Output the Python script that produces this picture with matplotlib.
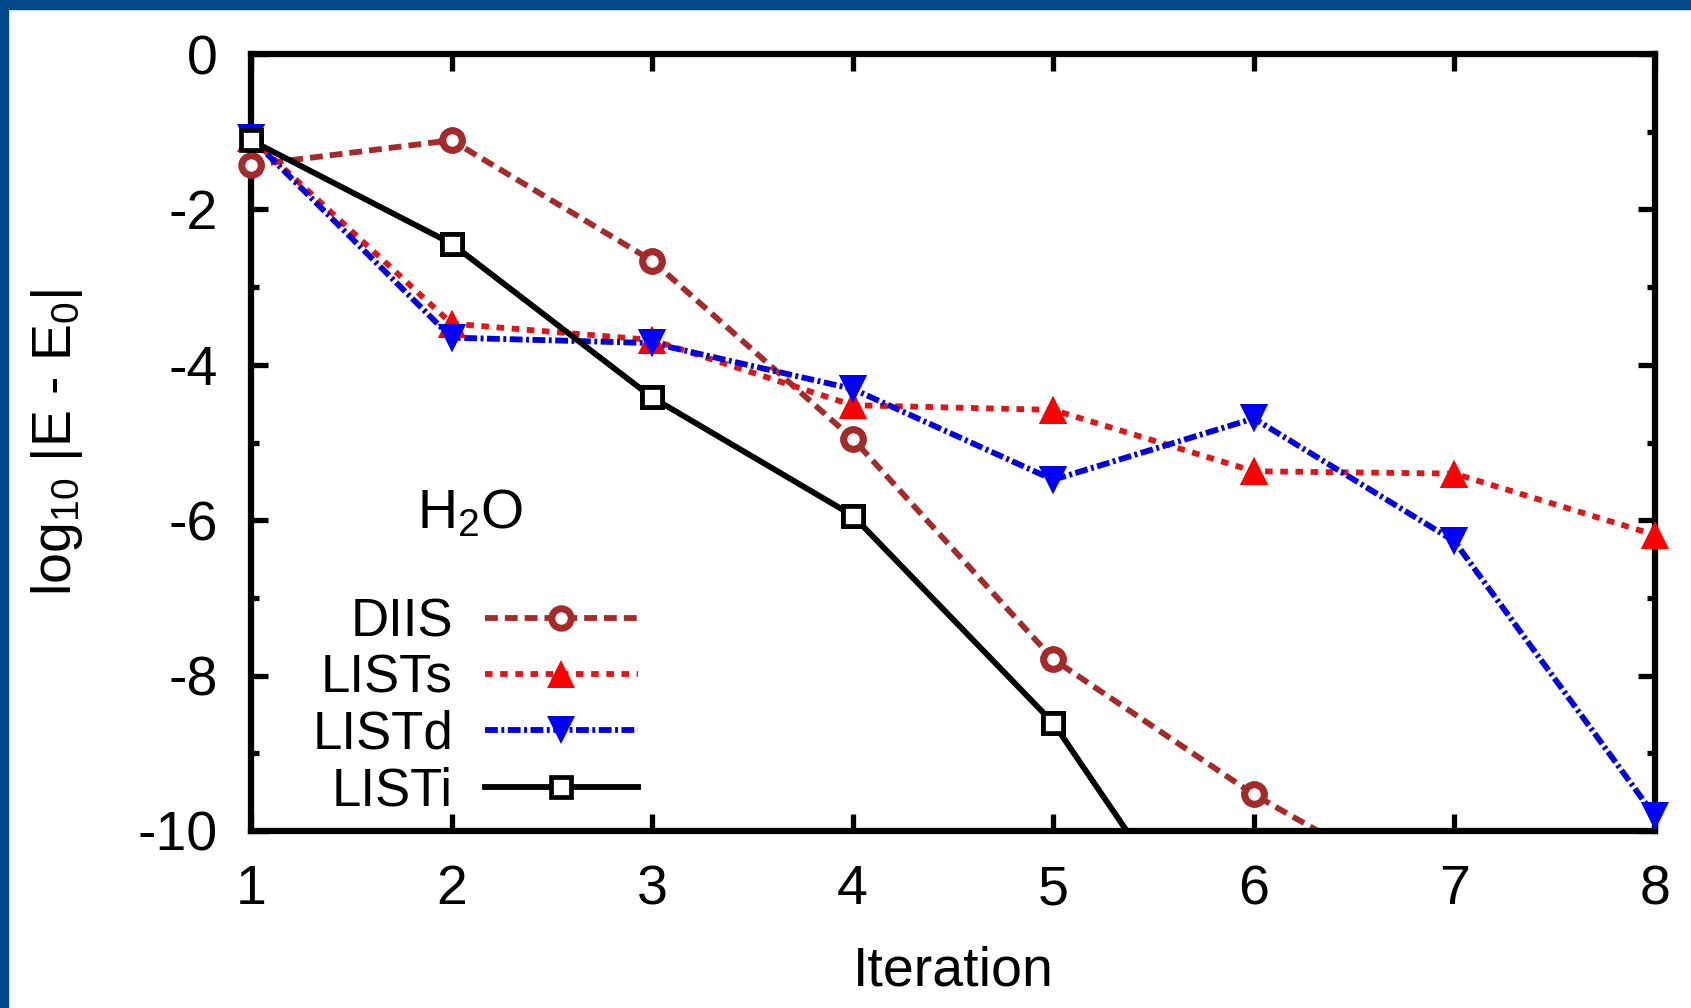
import numpy as np
import matplotlib
matplotlib.use("Agg")
import matplotlib.pyplot as plt
from matplotlib.patches import Rectangle

plt.rcParams["font.family"] = ["Liberation Sans", "DejaVu Sans"]
plt.rcParams["mathtext.fontset"] = "custom"
plt.rcParams["mathtext.rm"] = "Liberation Sans"
plt.rcParams["mathtext.it"] = "Liberation Sans"
plt.rcParams["axes.unicode_minus"] = False

# --- データ ---
iterations = [1, 2, 3, 4, 5, 6, 7, 8]
diis = [-1.43, -1.11, -2.66, -4.95, -7.79, -9.53, -11.0]
lists = [-1.08, -3.47, -3.68, -4.52, -4.58, -5.37, -5.40, -6.19]
listd = [-1.08, -3.65, -3.72, -4.31, -5.48, -4.69, -6.27, -9.81]
listi = [-1.11, -2.44, -4.42, -5.94, -8.61, -12.4]

labels = ["DIIS", "LISTs", "LISTd", "LISTi"]
y_ticks = [0, -2, -4, -6, -8, -10]

series = [
    (diis, dict(color="#a52a2a", ls=(0, (2.2, 1.2)), marker="o", ms=14,
                mfc="white", mec="#a52a2a", mew=5)),
    (lists, dict(color="#e01515", ls=(0, (1.3, 1.3)), marker="^", ms=20,
                 mfc="#ff0000", mec="#ff0000", mew=0)),
    (listd, dict(color="#0000e0", ls=(0, (2.2, 0.6, 0.5, 0.6)), marker="v", ms=20,
                 mfc="#0000ff", mec="#0000ff", mew=0)),
    (listi, dict(color="black", ls="-", marker="s", ms=14,
                 mfc="white", mec="black", mew=3.4)),
]

fig = plt.figure(figsize=(16.91, 10.08), dpi=100)
ax = fig.add_axes([0.1484, 0.1756, 0.8303, 0.7708])

for (vals, st), lab in zip(series, labels):
    x = np.array(iterations[:len(vals)])
    y = np.array(vals)
    ax.plot(x, y, lw=4.2, label=lab, **st)
    # 枠の外にはみ出すマーカー（x=1, x=8 の点）も見せる
    keep = y >= -10
    st2 = {k: v for k, v in st.items() if k not in ("ls", "color")}
    ax.plot(x[keep], y[keep], ls="none", clip_on=False, zorder=3, **st2)

ax.set_xlim(1, 8)
ax.set_ylim(-10, 0)
ax.set_xticks(iterations)
ax.set_yticks(y_ticks)
ax.set_yticks(np.arange(-9, 0, 2), minor=True)

for s in ax.spines.values():
    s.set_linewidth(4.5)
ax.tick_params(which="both", direction="in", top=True, right=True,
               width=3.8, labelsize=40)
ax.tick_params(which="major", length=12, pad=24)
ax.tick_params(which="minor", length=6)

ax.set_xlabel("Iteration", fontsize=40)
ax.xaxis.set_label_coords(0.5, -0.148)
ax.set_ylabel(r"log$_{10}$ |E - E$_0$|", fontsize=40)
ax.yaxis.set_label_coords(-0.118, 0.5)

ax.text(2.09, -5.93, r"H$_2$O", fontsize=40, ha="center", va="center")

leg = ax.legend(loc="center", bbox_to_anchor=(0.1595, 0.160), frameon=False,
                markerfirst=False, numpoints=1, fontsize=38, handlelength=2.9,
                handletextpad=0.6, labelspacing=0.12, borderpad=0)

# 左と上の青い枠
fig.add_artist(Rectangle((0, 0), 0.0047, 1, transform=fig.transFigure,
                         color="#004a8c", zorder=10))
fig.add_artist(Rectangle((0, 1 - 0.0089), 1, 0.0089, transform=fig.transFigure,
                         color="#004a8c", zorder=10))

fig.savefig("out.png", dpi=100, facecolor="white")
